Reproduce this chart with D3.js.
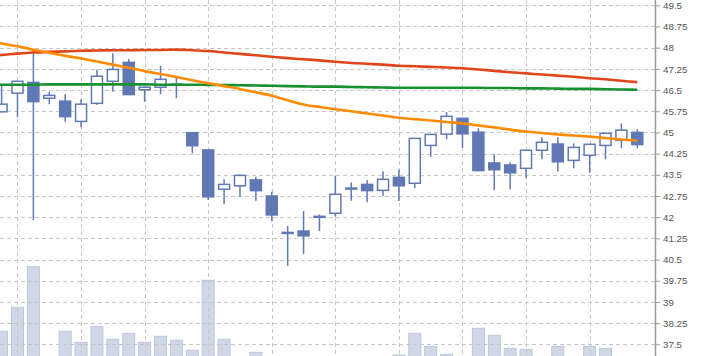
<!DOCTYPE html>
<html><head><meta charset="utf-8">
<script src="https://cdn.jsdelivr.net/npm/d3@7/dist/d3.min.js"></script>
<style>
html,body{margin:0;padding:0;background:#fff;}
svg{display:block;}
</style></head>
<body><svg id="c" width="701" height="356"></svg>
<script>
const openP  = [45.73,46.39,46.77,46.21,46.11,45.39,46.03,46.81,47.48,46.51,46.60,46.70,44.99,44.38,42.99,43.11,43.32,42.75,41.46,41.51,42.03,42.14,43.02,43.16,42.95,43.41,43.20,44.54,44.94,45.50,45.01,43.92,43.85,43.73,44.37,44.59,44.01,44.19,44.54,44.72,45.00];
const highP  = [46.68,46.81,47.92,46.44,46.35,46.17,47.23,47.80,47.60,46.62,47.36,46.93,45.00,44.40,43.34,43.52,43.43,42.90,41.69,42.22,42.10,43.46,43.23,43.32,43.63,43.69,44.80,44.94,45.72,45.52,45.15,44.23,43.94,44.38,44.83,44.83,44.61,44.59,44.98,45.32,45.11];
const lowP   = [45.71,45.54,41.90,46.00,45.38,45.18,45.98,46.44,46.33,46.09,46.35,46.21,44.26,42.61,42.46,42.72,42.58,41.86,40.28,40.69,41.51,42.02,42.58,42.53,42.76,42.57,43.02,44.14,44.76,44.45,43.64,42.96,42.99,43.38,44.05,43.62,43.73,43.57,44.05,44.44,44.44];
const closeP = [46.00,46.81,46.09,46.31,45.56,46.00,46.99,47.23,46.34,46.60,46.88,46.71,44.53,42.72,43.16,43.48,42.94,42.08,41.44,41.34,42.01,42.81,43.03,42.94,43.34,43.11,44.79,44.93,45.57,44.95,43.65,43.68,43.57,44.37,44.65,43.96,44.47,44.58,44.97,45.08,44.57];
const volume = [4.87,7.27,11.33,2.0,4.87,3.77,5.37,4.07,4.67,3.77,4.37,3.97,2.97,9.97,4.07,2.1,2.77,2.2,1.9,1.8,2.0,2.2,1.6,1.9,2.1,2.5,4.67,3.37,2.57,2.2,5.17,4.47,3.17,3.07,2.2,3.37,2.3,3.37,3.17,2.3,2.2];
// moving averages, first value belongs to the session before the first visible candle
const maShort = [48.26,48.15,48.05,47.93,47.82,47.71,47.62,47.51,47.40,47.29,47.17,47.07,46.96,46.85,46.74,46.64,46.54,46.42,46.30,46.14,45.99,45.90,45.82,45.75,45.67,45.60,45.52,45.47,45.42,45.37,45.32,45.25,45.18,45.10,45.03,44.98,44.93,44.89,44.85,44.80,44.75,44.71];
const maMid   = [47.70,47.74,47.79,47.83,47.85,47.87,47.89,47.90,47.91,47.91,47.92,47.92,47.93,47.91,47.88,47.83,47.78,47.73,47.68,47.63,47.59,47.55,47.50,47.46,47.43,47.40,47.36,47.34,47.32,47.30,47.27,47.23,47.18,47.13,47.09,47.05,47.01,46.97,46.92,46.88,46.83,46.78];
const maLong  = [46.68,46.69,46.69,46.69,46.70,46.70,46.70,46.70,46.70,46.70,46.70,46.69,46.69,46.69,46.68,46.68,46.67,46.66,46.65,46.64,46.63,46.62,46.62,46.61,46.60,46.59,46.58,46.58,46.58,46.58,46.58,46.58,46.57,46.57,46.56,46.56,46.55,46.54,46.54,46.53,46.52,46.51];
const yTicks = [37.5,38.25,39,39.75,40.5,41.25,42,42.75,43.5,44.25,45,45.75,46.5,47.25,48,48.75,49.5];
const xGridIdx = [1,5,9,13,17,21,25,29,33,37];

const W = 701, H = 356, axisX = 655;
const svg = d3.select("#c");
const x = d3.scaleLinear().domain([0, 40]).range([1.6, 637.3]);
const y = d3.scaleLinear().domain([37.5, 49.5]).range([344.3, 5.3]);
const yv = d3.scaleLinear().domain([0, 12]).range([380, 260]);
const step = x(1) - x(0);
const bw = 11;
const blue = "#6079b5";

svg.append("defs").append("clipPath").attr("id","plot")
  .append("rect").attr("x",0).attr("y",0).attr("width",axisX).attr("height",H);
const plot = svg.append("g").attr("clip-path","url(#plot)");

const idx = d3.range(openP.length);

// volume bars
plot.append("g").selectAll("rect").data(idx).join("rect")
  .attr("x", i => x(i) - bw/2 - 0.5)
  .attr("width", bw + 1)
  .attr("y", i => yv(volume[i]))
  .attr("height", i => yv(0) - yv(volume[i]))
  .attr("fill", "#d0d8e8")
  .attr("stroke", "#bcc7de")
  .attr("stroke-width", 1);

// grid
const grid = plot.append("g").attr("stroke","#c6c6c6").attr("stroke-width",1).attr("stroke-dasharray","4,3");
grid.selectAll("line.h").data(yTicks).join("line").attr("class","h")
  .attr("x1",0).attr("x2",axisX).attr("y1",d=>Math.round(y(d))+0.5).attr("y2",d=>Math.round(y(d))+0.5);
grid.selectAll("line.v").data(xGridIdx).join("line").attr("class","v")
  .attr("y1",0).attr("y2",H).attr("x1",d=>Math.round(x(d))+0.5).attr("x2",d=>Math.round(x(d))+0.5);

// candles
const cg = plot.append("g");
cg.selectAll("line").data(idx).join("line")
  .attr("x1", i => x(i)).attr("x2", i => x(i))
  .attr("y1", i => y(highP[i])).attr("y2", i => y(lowP[i]))
  .attr("stroke", blue).attr("stroke-width", 1.5);
cg.selectAll("rect").data(idx).join("rect")
  .attr("x", i => x(i) - bw/2)
  .attr("width", bw)
  .attr("y", i => y(Math.max(openP[i], closeP[i])))
  .attr("height", i => Math.max(1, Math.abs(y(openP[i]) - y(closeP[i]))))
  .attr("fill", i => closeP[i] >= openP[i] ? "#ffffff" : blue)
  .attr("stroke", blue).attr("stroke-width", 1.5);

// moving averages
const line = d3.line().x((d,i) => x(i - 1)).y(d => y(d)).curve(d3.curveMonotoneX);
[[maLong,"#17912f"],[maMid,"#e0461a"],[maShort,"#ff8c00"]].forEach(([arr,col]) => {
  plot.append("path").datum(arr).attr("d", line).attr("fill","none")
    .attr("stroke", col).attr("stroke-width", 2.6).attr("stroke-linecap","butt");
});

// right axis
const ax = svg.append("g").attr("transform", `translate(${axisX},0)`)
  .call(d3.axisRight(y).tickValues(yTicks).tickFormat(d3.format("")).tickSize(5).tickPadding(3));
ax.select(".domain").attr("stroke","#9a9a9a").attr("stroke-width",1.5).attr("d", `M0.5,0V${H}`);
ax.selectAll(".tick line").attr("stroke","#9a9a9a");
ax.selectAll(".tick text").attr("fill","#555").attr("font-family","'Liberation Sans', Arial, sans-serif").attr("font-size","9.8px");
</script>
</body></html>
